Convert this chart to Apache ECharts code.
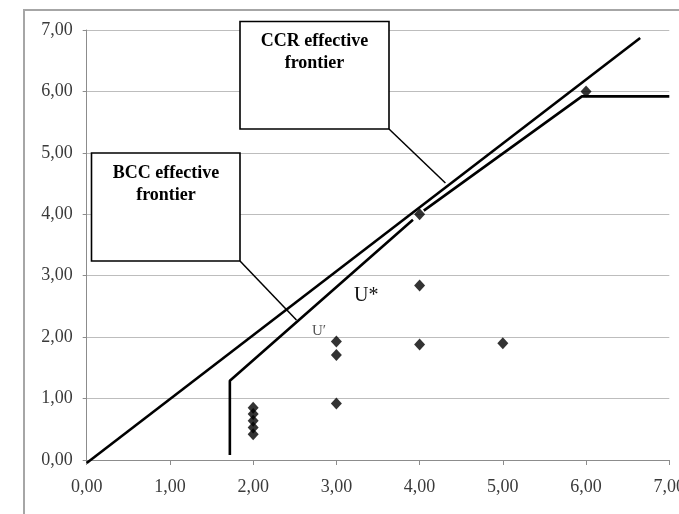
<!DOCTYPE html>
<html>
<head>
<meta charset="utf-8">
<script src="https://cdn.jsdelivr.net/npm/echarts@6/dist/echarts.min.js"></script>
<style>
html,body{margin:0;padding:0;background:#fff;}
#c{width:679px;height:514px;}
</style>
</head>
<body>
<div id="c"></div>
<script>
// ---- data ----
var xTicks = [0, 1, 2, 3, 4, 5, 6, 7];
var yTicks = [0, 1, 2, 3, 4, 5, 6, 7];
var ccrFrontier = [[0, -0.05], [6.65, 6.87]];
var bccFrontierA = [[1.72, 0.08], [1.72, 1.29], [3.92, 3.91]];
var bccFrontierB = [[4.05, 4.06], [5.95, 5.92], [7.0, 5.92]];
var dmuPoints = [
  [2, 0.42], [2, 0.53], [2, 0.64], [2, 0.75], [2, 0.85],
  [3, 0.92], [3, 1.71], [3, 1.93],
  [4, 1.88], [4, 2.84], [4, 4.0],
  [5, 1.90], [6, 6.0]
];
var ccrLabel = 'CCR effective\nfrontier';
var bccLabel = 'BCC effective\nfrontier';
var ccrLeaderEnd = [4.31, 4.51];
var bccLeaderEnd = [2.52, 2.28];

var serif = '"Liberation Serif", "Times New Roman", serif';
function fmt(v) { return v.toFixed(2).replace('.', ','); }

var chart = echarts.init(document.getElementById('c'), null, {renderer: 'canvas'});
var option = {
  animation: false,
  backgroundColor: '#ffffff',
  grid: {left: 86.7, right: 9.7, top: 30, bottom: 54, containLabel: false, outerBoundsMode: 'none'},
  xAxis: {
    type: 'value', min: xTicks[0], max: xTicks[xTicks.length - 1], interval: 1,
    axisLine: {show: true, onZero: false, lineStyle: {color: '#8c8c8c', width: 1}},
    axisTick: {show: true, length: 5, lineStyle: {color: '#8c8c8c'}},
    splitLine: {show: false},
    axisLabel: {formatter: fmt, margin: 18, fontFamily: serif, fontSize: 18, color: '#3a3a3a', hideOverlap: false}
  },
  yAxis: {
    type: 'value', min: yTicks[0], max: yTicks[yTicks.length - 1], interval: 1,
    axisLine: {show: true, onZero: false, lineStyle: {color: '#8c8c8c', width: 1}},
    axisTick: {show: true, length: 4, lineStyle: {color: '#8c8c8c'}},
    splitLine: {show: true, lineStyle: {color: '#bdbdbd', width: 1}},
    axisLabel: {formatter: fmt, margin: 14, fontFamily: serif, fontSize: 18, color: '#3a3a3a'}
  },
  series: [
    {type: 'line', data: ccrFrontier, symbol: 'none', clip: false,
     lineStyle: {color: '#000', width: 2.6}, z: 3},
    {type: 'line', data: bccFrontierA, symbol: 'none', clip: false,
     lineStyle: {color: '#000', width: 2.6}, z: 3},
    {type: 'line', data: bccFrontierB, symbol: 'none', clip: false,
     lineStyle: {color: '#000', width: 2.6}, z: 3},
    {type: 'scatter', data: dmuPoints, symbol: 'diamond', symbolSize: [11, 12],
     itemStyle: {color: '#000'}, z: 5}
  ]
};
chart.setOption(option);

var pC = chart.convertToPixel({gridIndex: 0}, ccrLeaderEnd);
var pB = chart.convertToPixel({gridIndex: 0}, bccLeaderEnd);

chart.setOption({
  graphic: [
    {type: 'rect', shape: {x: 24, y: 10, width: 720, height: 600},
     style: {fill: 'none', stroke: '#a6a6a6', lineWidth: 2}, z: 1},
    // leader lines
    {type: 'line', shape: {x1: 389, y1: 129, x2: pC[0], y2: pC[1]},
     style: {stroke: '#000', lineWidth: 1.5}, z: 10},
    {type: 'line', shape: {x1: 240, y1: 261, x2: pB[0], y2: pB[1]},
     style: {stroke: '#000', lineWidth: 1.5}, z: 10},
    // CCR box
    {type: 'rect', shape: {x: 240, y: 21.5, width: 149, height: 107.5},
     style: {fill: '#fff', stroke: '#000', lineWidth: 1.6}, z: 11},
    {type: 'text', x: 314.5, y: 30, z: 12,
     style: {text: ccrLabel, fontFamily: serif, fontWeight: 'bold', fontSize: 18,
             lineHeight: 22, fill: '#000', align: 'center', verticalAlign: 'top'}},
    // BCC box
    {type: 'rect', shape: {x: 91.5, y: 153, width: 148.5, height: 108},
     style: {fill: '#fff', stroke: '#000', lineWidth: 1.6}, z: 11},
    {type: 'text', x: 166, y: 162, z: 12,
     style: {text: bccLabel, fontFamily: serif, fontWeight: 'bold', fontSize: 18,
             lineHeight: 22, fill: '#000', align: 'center', verticalAlign: 'top'}},
    // point labels
    {type: 'text', x: 354, y: 306, z: 12,
     style: {text: 'U*', fontFamily: serif, fontSize: 20, fill: '#111',
             align: 'left', verticalAlign: 'bottom'}},
    {type: 'text', x: 312, y: 339, z: 12,
     style: {text: 'U\u2032', fontFamily: serif, fontSize: 15, fill: '#555',
             align: 'left', verticalAlign: 'bottom'}}
  ]
});
</script>
</body>
</html>
